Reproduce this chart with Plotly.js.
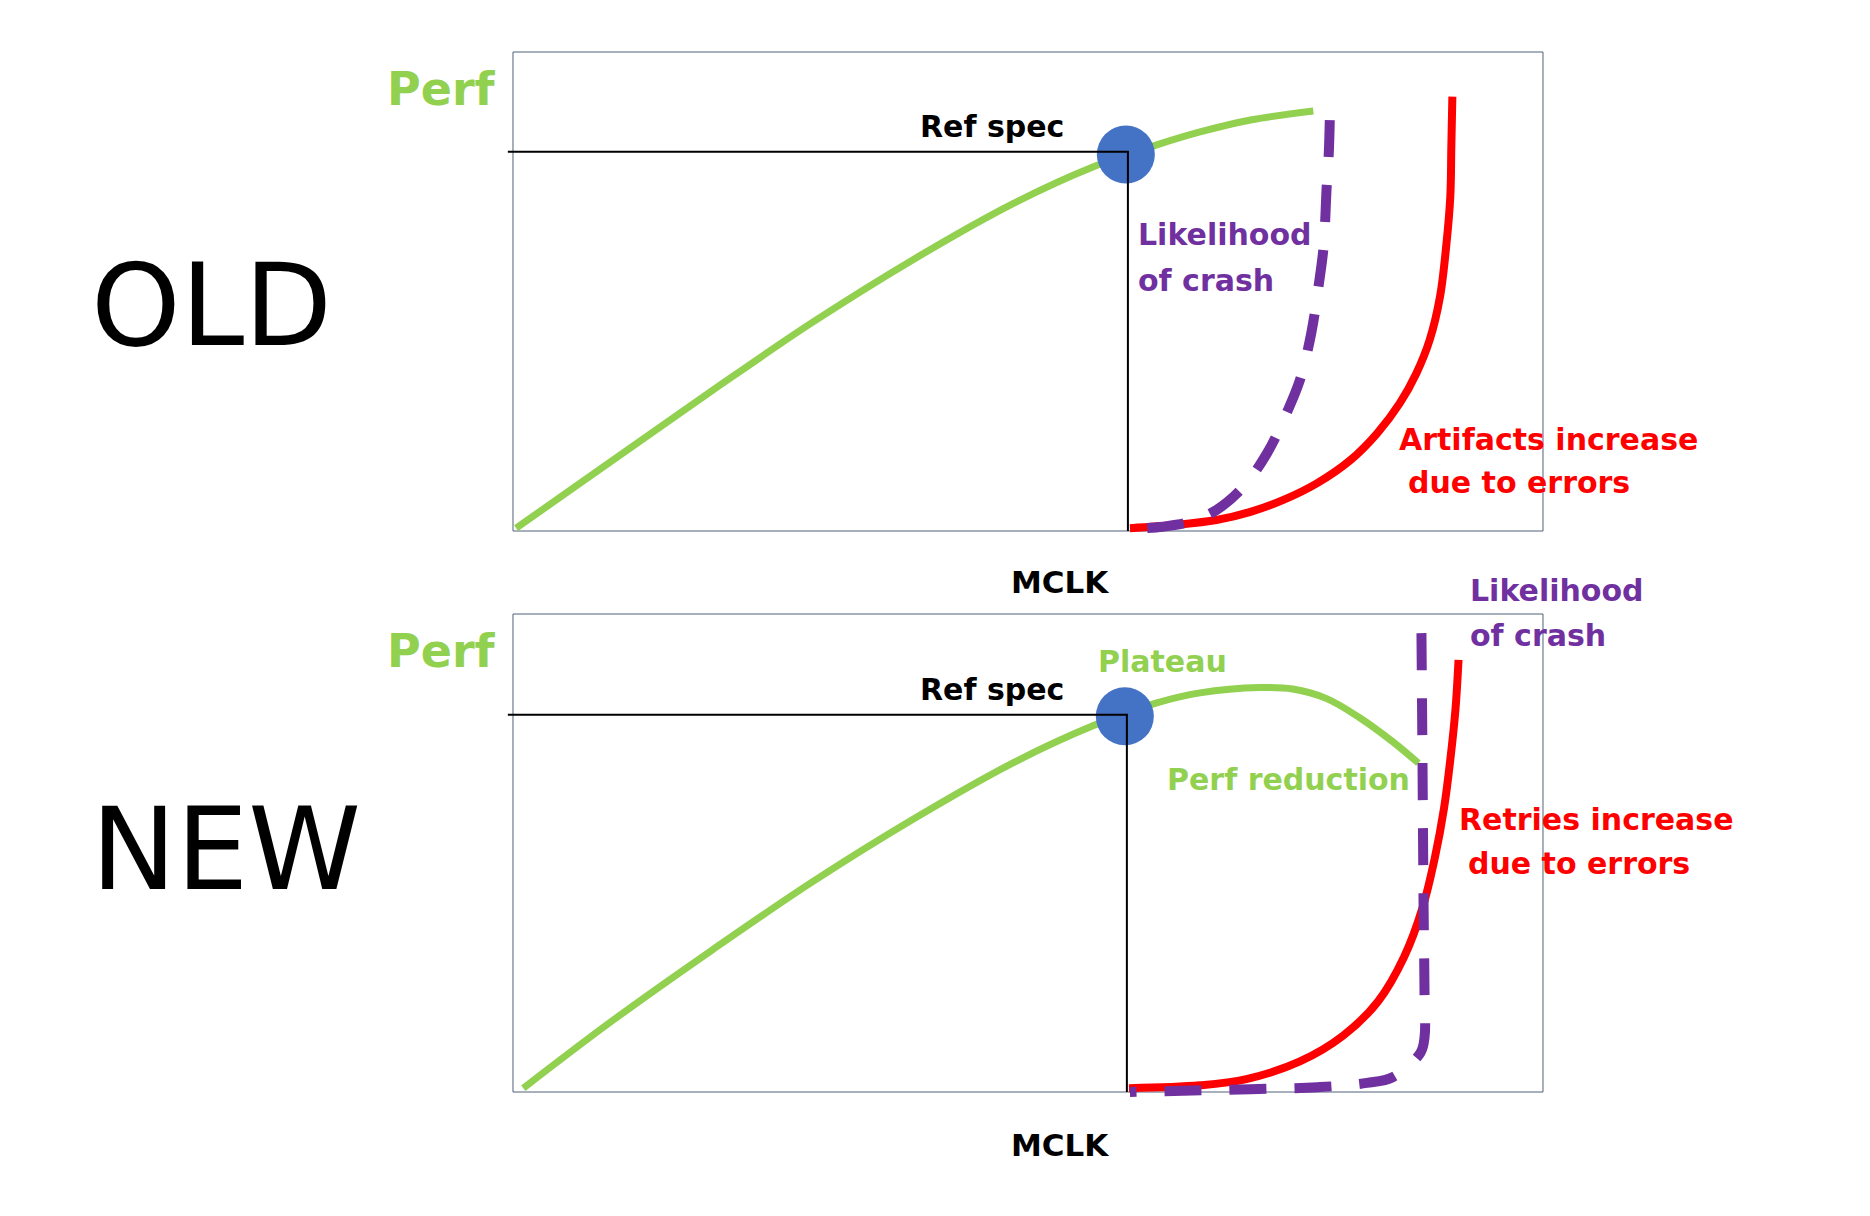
<!DOCTYPE html>
<html>
<head>
<meta charset="utf-8">
<script src="https://cdn.plot.ly/plotly-3.0.1.min.js"></script>
<style>html,body{margin:0;padding:0;background:#fff;}#chart{width:1870px;height:1216px;}</style>
</head>
<body>
<div id="chart"></div>
<script>
// ---------- DATA (x: MCLK, 0-100 ; y: level, 0-100) ----------
// OLD panel
const oldPerfX  = [0.3, 9.7, 19.4, 29.1, 38.8, 48.5, 56.3, 62.5, 66.7, 71.6, 77.7];
const oldPerfY  = [0.6, 14.8, 29.4, 43.6, 56.6, 68.3, 76.0, 80.6, 83.3, 85.8, 87.7];
const oldErrX   = [59.9, 64.4, 68.3, 71.6, 74.8, 78.0, 81.3, 83.9, 86.1, 87.7, 89.0, 90.0, 90.6, 91.0, 91.1, 91.2];
const oldErrY   = [0.6, 1.3, 2.3, 4.0, 6.5, 9.9, 14.8, 20.4, 26.7, 32.9, 39.9, 48.9, 59.4, 69.8, 80.2, 90.7];
const oldCrashX = [79.3, 79.2, 79.0, 78.7, 78.2, 77.5, 76.4, 75.1, 73.2, 70.9, 68.3, 65.7, 63.1, 59.9];
const oldCrashY = [85.8, 78.8, 71.9, 59.4, 51.0, 41.3, 31.5, 24.6, 16.2, 9.2, 4.4, 1.9, 0.9, 0.4];
const oldRefX   = [-0.5, 59.7, 59.7];
const oldRefY   = [79.2, 79.2, 0];
const oldSpecX  = [59.5];
const oldSpecY  = [78.6];
// NEW panel
const newPerfX  = [1.0, 9.7, 19.4, 29.1, 38.8, 48.5, 56.3, 62.5, 66.7, 72.5, 75.7, 79.0, 82.2, 85.4, 87.9];
const newPerfY  = [0.8, 15.0, 29.8, 44.0, 57.0, 68.8, 76.6, 81.4, 83.5, 84.6, 84.3, 82.3, 78.3, 73.3, 68.8];
const newErrX   = [59.8, 66.7, 71.2, 76.4, 80.6, 84.0, 86.5, 88.3, 89.5, 90.4, 91.0, 91.5, 91.8];
const newErrY   = [0.8, 1.4, 2.7, 6.4, 11.8, 19.0, 28.2, 38.5, 49.0, 59.5, 69.5, 80.0, 90.4];
const newCrashX = [88.2, 88.3, 88.4, 88.5, 88.5, 88.1, 85.4, 82.9, 78.1, 71.6, 59.9];
const newCrashY = [96.0, 69.5, 40.2, 20.0, 11.5, 8.2, 3.1, 1.9, 1.0, 0.6, 0.0];
const newRefX   = [-0.5, 59.6, 59.6];
const newRefY   = [78.9, 78.9, 0];
const newSpecX  = [59.4];
const newSpecY  = [78.6];

// ---------- STYLE ----------
const W = 1870, H = 1216;
const GREEN = '#92d050', RED = '#ff0000', PURPLE = '#7030a0', BLUE = '#4472c4';
const FONT = 'DejaVu Sans';
const px = x => x / W;
const py = y => 1 - y / H;

function panel(xa, ya, perfX, perfY, errX, errY, crashX, crashY, refX, refY, specX, specY) {
  return [
    {x: perfX, y: perfY, xaxis: xa, yaxis: ya, mode: 'lines', line: {color: GREEN, width: 7, shape: 'spline', smoothing: 1}, hoverinfo: 'skip'},
    {x: errX, y: errY, xaxis: xa, yaxis: ya, mode: 'lines', line: {color: RED, width: 8, shape: 'spline', smoothing: 1}, hoverinfo: 'skip'},
    {x: crashX, y: crashY, xaxis: xa, yaxis: ya, mode: 'lines', line: {color: PURPLE, width: 10, shape: 'spline', smoothing: 1, dash: '37px,28px'}, hoverinfo: 'skip'},
    {x: specX, y: specY, xaxis: xa, yaxis: ya, mode: 'markers', marker: {color: BLUE, size: 58, line: {width: 0}}, hoverinfo: 'skip'},
    {x: refX, y: refY, xaxis: xa, yaxis: ya, mode: 'lines', line: {color: '#000000', width: 2}, hoverinfo: 'skip'}
  ];
}

const traces = []
  .concat(panel('x', 'y', oldPerfX, oldPerfY, oldErrX, oldErrY, oldCrashX, oldCrashY, oldRefX, oldRefY, oldSpecX, oldSpecY))
  .concat(panel('x2', 'y2', newPerfX, newPerfY, newErrX, newErrY, newCrashX, newCrashY, newRefX, newRefY, newSpecX, newSpecY));

const axBase = {range: [-5, 105], showgrid: false, zeroline: false, showticklabels: false, showline: false, ticks: '', fixedrange: true};

function ann(text, x, y, color, size, xanchor, bold) {
  return {text: text, xref: 'paper', yref: 'paper', x: px(x), y: py(y), xanchor: xanchor, yanchor: 'middle',
          showarrow: false, font: {family: FONT, size: size, color: color, weight: bold ? 'bold' : 'normal'}};
}

const boxLine = {color: '#4f6178', width: 1};
const layout = {
  width: W, height: H,
  margin: {l: 0, r: 0, t: 0, b: 0},
  paper_bgcolor: '#ffffff', plot_bgcolor: 'rgba(0,0,0,0)',
  showlegend: false,
  xaxis:  Object.assign({}, axBase, {domain: [0.24679, 0.85267], anchor: 'y'}),
  yaxis:  Object.assign({}, axBase, {domain: [0.54362, 0.97693], anchor: 'x'}),
  xaxis2: Object.assign({}, axBase, {domain: [0.24679, 0.85267], anchor: 'y2'}),
  yaxis2: Object.assign({}, axBase, {domain: [0.08232, 0.51472], anchor: 'x2'}),
  shapes: [
    {type: 'rect', xref: 'x', yref: 'y', x0: 0, x1: 100, y0: 0, y1: 100, line: boxLine, layer: 'below'},
    {type: 'rect', xref: 'x2', yref: 'y2', x0: 0, x1: 100, y0: 0, y1: 100, line: boxLine, layer: 'below'}
  ],
  annotations: [
    ann('OLD', 89, 305, '#000000', 114, 'left', false),
    ann('NEW', 89, 849, '#000000', 114, 'left', false),
    ann('Perf', 498, 89, GREEN, 46, 'right', true),
    ann('Perf', 498, 651, GREEN, 46, 'right', true),
    ann('Ref spec', 992, 126, '#000000', 30, 'center', true),
    ann('Ref spec', 992, 689, '#000000', 30, 'center', true),
    ann('MCLK', 1060, 582, '#000000', 31, 'center', true),
    ann('MCLK', 1060, 1145, '#000000', 31, 'center', true),
    ann('Likelihood', 1136, 235, PURPLE, 30, 'left', true),
    ann('of crash', 1136, 280, PURPLE, 30, 'left', true),
    ann('Artifacts increase', 1397, 439, RED, 30, 'left', true),
    ann('due to errors', 1406, 483, RED, 30, 'left', true),
    ann('Plateau', 1096, 661, GREEN, 30, 'left', true),
    ann('Perf reduction', 1165, 779, GREEN, 30, 'left', true),
    ann('Likelihood', 1468, 590, PURPLE, 30, 'left', true),
    ann('of crash', 1468, 635, PURPLE, 30, 'left', true),
    ann('Retries increase', 1457, 819, RED, 30, 'left', true),
    ann('due to errors', 1466, 863, RED, 30, 'left', true)
  ]
};

Plotly.newPlot('chart', traces, layout, {displayModeBar: false, staticPlot: true});
</script>
</body>
</html>
